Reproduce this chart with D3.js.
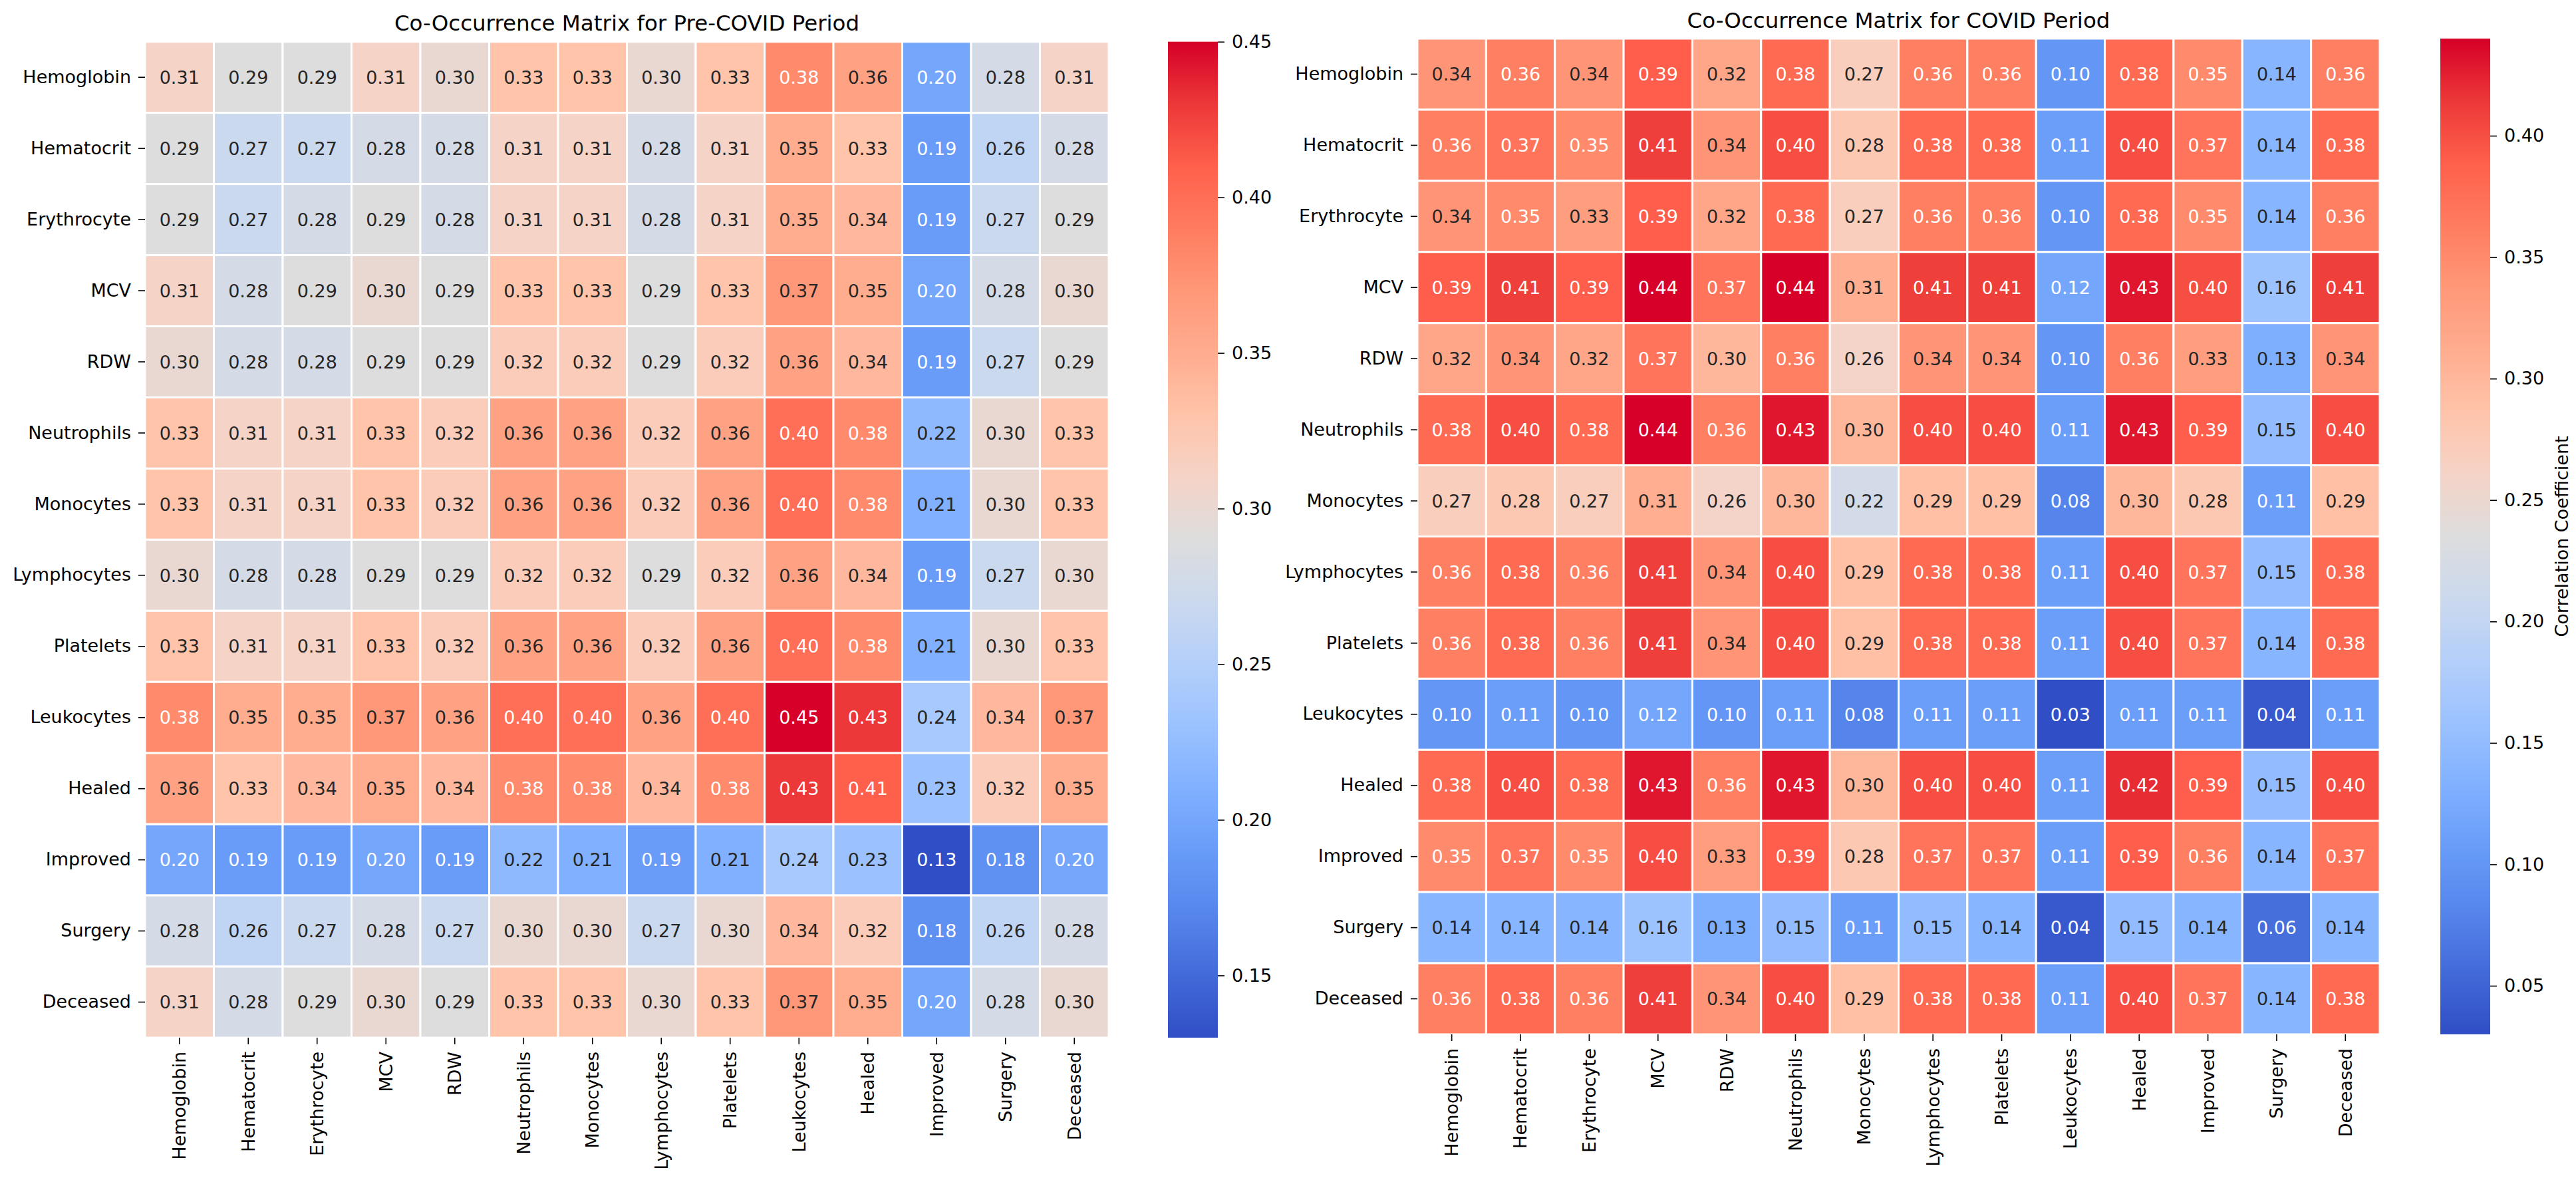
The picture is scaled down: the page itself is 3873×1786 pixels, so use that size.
<html>
<head>
	<title>Co-Occurrence Matrices</title>
	<script src="https://d3js.org/d3.v7.min.js"></script>
</head>
<body>
	<style> *{
		margin: 0px;
		padding: 0px;
	}
	body { background: #ffffff; }
	text { font-family: "DejaVu Sans", sans-serif; fill: #000000; }
	</style>

	<svg id="SVGcanvas" xmlns="http://www.w3.org/2000/svg" width="3873" height="1786">
	</svg>

	<script>
	var categories = ["Hemoglobin", "Hematocrit", "Erythrocyte", "MCV", "RDW", "Neutrophils", "Monocytes",
		"Lymphocytes", "Platelets", "Leukocytes", "Healed", "Improved", "Surgery", "Deceased"];

	var preCovidValues = [
		[0.31, 0.29, 0.29, 0.31, 0.30, 0.33, 0.33, 0.30, 0.33, 0.38, 0.36, 0.20, 0.28, 0.31],
		[0.29, 0.27, 0.27, 0.28, 0.28, 0.31, 0.31, 0.28, 0.31, 0.35, 0.33, 0.19, 0.26, 0.28],
		[0.29, 0.27, 0.28, 0.29, 0.28, 0.31, 0.31, 0.28, 0.31, 0.35, 0.34, 0.19, 0.27, 0.29],
		[0.31, 0.28, 0.29, 0.30, 0.29, 0.33, 0.33, 0.29, 0.33, 0.37, 0.35, 0.20, 0.28, 0.30],
		[0.30, 0.28, 0.28, 0.29, 0.29, 0.32, 0.32, 0.29, 0.32, 0.36, 0.34, 0.19, 0.27, 0.29],
		[0.33, 0.31, 0.31, 0.33, 0.32, 0.36, 0.36, 0.32, 0.36, 0.40, 0.38, 0.22, 0.30, 0.33],
		[0.33, 0.31, 0.31, 0.33, 0.32, 0.36, 0.36, 0.32, 0.36, 0.40, 0.38, 0.21, 0.30, 0.33],
		[0.30, 0.28, 0.28, 0.29, 0.29, 0.32, 0.32, 0.29, 0.32, 0.36, 0.34, 0.19, 0.27, 0.30],
		[0.33, 0.31, 0.31, 0.33, 0.32, 0.36, 0.36, 0.32, 0.36, 0.40, 0.38, 0.21, 0.30, 0.33],
		[0.38, 0.35, 0.35, 0.37, 0.36, 0.40, 0.40, 0.36, 0.40, 0.45, 0.43, 0.24, 0.34, 0.37],
		[0.36, 0.33, 0.34, 0.35, 0.34, 0.38, 0.38, 0.34, 0.38, 0.43, 0.41, 0.23, 0.32, 0.35],
		[0.20, 0.19, 0.19, 0.20, 0.19, 0.22, 0.21, 0.19, 0.21, 0.24, 0.23, 0.13, 0.18, 0.20],
		[0.28, 0.26, 0.27, 0.28, 0.27, 0.30, 0.30, 0.27, 0.30, 0.34, 0.32, 0.18, 0.26, 0.28],
		[0.31, 0.28, 0.29, 0.30, 0.29, 0.33, 0.33, 0.30, 0.33, 0.37, 0.35, 0.20, 0.28, 0.30]
	];

	var covidValues = [
		[0.34, 0.36, 0.34, 0.39, 0.32, 0.38, 0.27, 0.36, 0.36, 0.10, 0.38, 0.35, 0.14, 0.36],
		[0.36, 0.37, 0.35, 0.41, 0.34, 0.40, 0.28, 0.38, 0.38, 0.11, 0.40, 0.37, 0.14, 0.38],
		[0.34, 0.35, 0.33, 0.39, 0.32, 0.38, 0.27, 0.36, 0.36, 0.10, 0.38, 0.35, 0.14, 0.36],
		[0.39, 0.41, 0.39, 0.44, 0.37, 0.44, 0.31, 0.41, 0.41, 0.12, 0.43, 0.40, 0.16, 0.41],
		[0.32, 0.34, 0.32, 0.37, 0.30, 0.36, 0.26, 0.34, 0.34, 0.10, 0.36, 0.33, 0.13, 0.34],
		[0.38, 0.40, 0.38, 0.44, 0.36, 0.43, 0.30, 0.40, 0.40, 0.11, 0.43, 0.39, 0.15, 0.40],
		[0.27, 0.28, 0.27, 0.31, 0.26, 0.30, 0.22, 0.29, 0.29, 0.08, 0.30, 0.28, 0.11, 0.29],
		[0.36, 0.38, 0.36, 0.41, 0.34, 0.40, 0.29, 0.38, 0.38, 0.11, 0.40, 0.37, 0.15, 0.38],
		[0.36, 0.38, 0.36, 0.41, 0.34, 0.40, 0.29, 0.38, 0.38, 0.11, 0.40, 0.37, 0.14, 0.38],
		[0.10, 0.11, 0.10, 0.12, 0.10, 0.11, 0.08, 0.11, 0.11, 0.03, 0.11, 0.11, 0.04, 0.11],
		[0.38, 0.40, 0.38, 0.43, 0.36, 0.43, 0.30, 0.40, 0.40, 0.11, 0.42, 0.39, 0.15, 0.40],
		[0.35, 0.37, 0.35, 0.40, 0.33, 0.39, 0.28, 0.37, 0.37, 0.11, 0.39, 0.36, 0.14, 0.37],
		[0.14, 0.14, 0.14, 0.16, 0.13, 0.15, 0.11, 0.15, 0.14, 0.04, 0.15, 0.14, 0.06, 0.14],
		[0.36, 0.38, 0.36, 0.41, 0.34, 0.40, 0.29, 0.38, 0.38, 0.11, 0.40, 0.37, 0.14, 0.38]
	];

	var preCovidTicks = [0.15, 0.20, 0.25, 0.30, 0.35, 0.40, 0.45];
	var covidTicks = [0.05, 0.10, 0.15, 0.20, 0.25, 0.30, 0.35, 0.40];

	// coolwarm-like palette (stop position, colour), as it looks in the picture
	var paletteStops = [0, 0.125, 0.1875, 0.25, 0.3125, 0.375, 0.4375, 0.5, 0.5625, 0.625, 0.6875, 0.75, 0.8125, 0.875, 0.9375, 1];
	var paletteColors = ["#304ec6", "#5686ec", "#689cf8", "#80b0ff", "#9bc2ff", "#b4cffa", "#cbd9ee", "#dddddd",
		"#f5d3c7", "#ffc4aa", "#ffac8f", "#ff9878", "#ff7c60", "#ff604c", "#ec3838", "#d60028"];

	var palette = d3.scaleLinear()
		.domain( paletteStops )
		.range( paletteColors )
		.interpolate( d3.interpolateRgb )
		.clamp( true );

	var svg = d3.select( "#SVGcanvas" );

	// seaborn picks the annotation colour from the luminance of the cell
	function textColorFor( color ) {
		var c = d3.rgb( color );
		function lin( v ) {
			v = v / 255;
			return v <= 0.03928 ? v / 12.92 : Math.pow( ( v + 0.055 ) / 1.055, 2.4 );
		}
		var lum = 0.2126 * lin( c.r ) + 0.7152 * lin( c.g ) + 0.0722 * lin( c.b );
		return lum > 0.408 ? "#262626" : "#ffffff";
	}

	function drawHeatmap( box, values, ticks, title, gradientId, cbLabel ) {
		var flat = [].concat.apply( [], values );
		var vmin = d3.min( flat ), vmax = d3.max( flat );
		var norm = d3.scaleLinear().domain( [vmin, vmax] ).range( [0, 1] );

		var x = d3.scaleBand().domain( categories ).range( [box.left, box.right] );
		var y = d3.scaleBand().domain( categories ).range( [box.top, box.bottom] );

		var g = svg.append( "g" );

		var cells = [];
		values.forEach( function ( row, i ) {
			row.forEach( function ( v, j ) {
				cells.push( { row: categories[i], col: categories[j], value: v } );
			} );
		} );

		g.selectAll( "rect.cell" )
			.data( cells )
			.enter()
			.append( "rect" )
			.attr( "class", "cell" )
			.attr( "x", function ( d ) { return x( d.col ); } )
			.attr( "y", function ( d ) { return y( d.row ); } )
			.attr( "width", x.bandwidth() )
			.attr( "height", y.bandwidth() )
			.attr( "fill", function ( d ) { return palette( norm( d.value ) ); } )
			.attr( "stroke", "#ffffff" )
			.attr( "stroke-width", 3 );

		g.selectAll( "text.annot" )
			.data( cells )
			.enter()
			.append( "text" )
			.attr( "class", "annot" )
			.attr( "x", function ( d ) { return x( d.col ) + x.bandwidth() / 2; } )
			.attr( "y", function ( d ) { return y( d.row ) + y.bandwidth() / 2; } )
			.attr( "dy", "0.36em" )
			.attr( "text-anchor", "middle" )
			.style( "font-size", "27px" )
			.style( "fill", function ( d ) { return textColorFor( palette( norm( d.value ) ) ); } )
			.text( function ( d ) { return d.value.toFixed( 2 ); } );

		// axes
		var yAxis = g.append( "g" )
			.attr( "transform", "translate(" + box.left + ",0)" )
			.call( d3.axisLeft( y ).tickSize( 10 ).tickPadding( 11 ) );
		yAxis.select( ".domain" ).remove();
		yAxis.selectAll( "line" ).attr( "stroke", "#000" ).attr( "stroke-width", 1.6 );
		yAxis.selectAll( "text" ).style( "font-size", "27px" ).attr( "fill", "#000" );

		var xAxis = g.append( "g" )
			.attr( "transform", "translate(0," + box.bottom + ")" )
			.call( d3.axisBottom( x ).tickSize( 10 ).tickPadding( 11 ) );
		xAxis.select( ".domain" ).remove();
		xAxis.selectAll( "line" ).attr( "stroke", "#000" ).attr( "stroke-width", 1.6 );
		xAxis.selectAll( "text" )
			.style( "font-size", "27px" )
			.attr( "fill", "#000" )
			.attr( "transform", "rotate(-90)" )
			.attr( "x", -21 )
			.attr( "y", 0 )
			.attr( "dy", "0.35em" )
			.attr( "text-anchor", "end" );

		g.append( "text" )
			.attr( "x", ( box.left + box.right ) / 2 )
			.attr( "y", box.titleY )
			.attr( "text-anchor", "middle" )
			.style( "font-size", "32.5px" )
			.text( title );

		// colour bar
		var grad = svg.append( "defs" ).append( "linearGradient" )
			.attr( "id", gradientId )
			.attr( "x1", "0" ).attr( "y1", "1" )
			.attr( "x2", "0" ).attr( "y2", "0" );
		grad.selectAll( "stop" )
			.data( paletteStops )
			.enter()
			.append( "stop" )
			.attr( "offset", function ( d ) { return d; } )
			.attr( "stop-color", function ( d, i ) { return paletteColors[i]; } );

		g.append( "rect" )
			.attr( "x", box.cbLeft )
			.attr( "y", box.top )
			.attr( "width", box.cbWidth )
			.attr( "height", box.bottom - box.top )
			.attr( "fill", "url(#" + gradientId + ")" );

		var cbScale = d3.scaleLinear().domain( [vmin, vmax] ).range( [box.bottom, box.top] );
		var cbAxis = g.append( "g" )
			.attr( "transform", "translate(" + ( box.cbLeft + box.cbWidth ) + ",0)" )
			.call( d3.axisRight( cbScale ).tickValues( ticks ).tickFormat( d3.format( ".2f" ) ).tickSize( 10 ).tickPadding( 11 ) );
		cbAxis.select( ".domain" ).remove();
		cbAxis.selectAll( "line" ).attr( "stroke", "#000" ).attr( "stroke-width", 1.6 );
		cbAxis.selectAll( "text" ).style( "font-size", "27px" ).attr( "fill", "#000" );

		if ( cbLabel ) {
			g.append( "text" )
				.attr( "transform", "translate(" + box.cbLabelX + "," + ( box.top + box.bottom ) / 2 + ") rotate(-90)" )
				.attr( "text-anchor", "middle" )
				.style( "font-size", "27px" )
				.text( cbLabel );
		}
	}

	drawHeatmap( { left: 218, right: 1667, top: 62.7, bottom: 1560, titleY: 46, cbLeft: 1756, cbWidth: 75 },
		preCovidValues, preCovidTicks, "Co-Occurrence Matrix for Pre-COVID Period", "gradPre", null );

	drawHeatmap( { left: 2131, right: 3578, top: 58, bottom: 1555, titleY: 41.5, cbLeft: 3669, cbWidth: 75, cbLabelX: 3861 },
		covidValues, covidTicks, "Co-Occurrence Matrix for COVID Period", "gradCovid", "Correlation Coefficient" );

	</script>

</body>
</html>
